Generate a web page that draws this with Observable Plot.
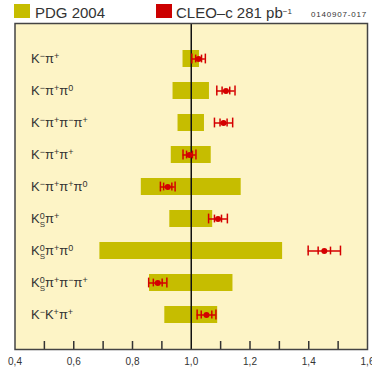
<!DOCTYPE html>
<html><head><meta charset="utf-8">
<script src="https://cdn.jsdelivr.net/npm/d3@7"></script>
<script src="https://cdn.jsdelivr.net/npm/@observablehq/plot@0.6"></script>
<style>
body{margin:0;background:#fff;font-family:"Liberation Sans",Arial,sans-serif;color:#333;}
#wrap{position:relative;width:372px;height:373px;overflow:hidden;}
#chart{position:absolute;left:0;top:0;}
#legend{position:absolute;left:0;top:0;width:372px;height:22px;z-index:2;}
.sw{position:absolute;top:4px;width:16px;height:14px;}
.lt{position:absolute;top:4.6px;font-size:15px;line-height:15px;white-space:nowrap;color:#333;}
.lt sup{font-size:8px;vertical-align:top;position:relative;top:-1px;}
.code{position:absolute;left:311px;top:10.5px;font-size:8px;line-height:8px;letter-spacing:0.8px;color:#333;white-space:nowrap;}
</style></head><body>
<div id="wrap">
  <div id="chart"></div>
  <div id="legend">
    <span class="sw" style="left:14px;background:#c6bd00"></span><span class="lt" style="left:35px">PDG 2004</span>
    <span class="sw" style="left:156px;background:#cc0000"></span><span class="lt" style="left:176px">CLEO–c 281 pb<sup>−1</sup></span>
    <span class="code">0140907-017</span>
  </div>
</div>
<script>
const modes = ["Kpi","Kpipi0","K3pi","Kpipi","Kpipipi0","KSpi","KSpipi0","KS3pi","KKpi"];
const labels = ["K⁻π⁺","K⁻π⁺π⁰","K⁻π⁺π⁻π⁺","K⁻π⁺π⁺","K⁻π⁺π⁺π⁰","K⁰ₛπ⁺","K⁰ₛπ⁺π⁰","K⁰ₛπ⁺π⁻π⁺","K⁻K⁺π⁺"];
const pdgErr = [0.028,0.062,0.045,0.068,0.170,0.073,0.311,0.142,0.090];
const cleoRatio = [1.025,1.118,1.110,0.994,0.920,1.091,1.453,0.886,1.052];
const cleoStat = [0.010,0.013,0.012,0.010,0.014,0.012,0.021,0.015,0.018];
const cleoTot = [0.023,0.031,0.031,0.022,0.025,0.032,0.055,0.031,0.032];
const xTicks = [0.4,0.6,0.8,1.0,1.2,1.4,1.6];
const minorTicks = [0.5,0.6,0.7,0.8,0.9,1.1,1.2,1.3,1.4,1.5];
const refLine = [1.0];

const red = "#d40000";
const rows = modes.map((m,i)=>({
  mode:m, label:labels[i],
  pdgLo:1-pdgErr[i], pdgHi:1+pdgErr[i],
  r:cleoRatio[i],
  sLo:cleoRatio[i]-cleoStat[i], sHi:cleoRatio[i]+cleoStat[i],
  tLo:cleoRatio[i]-cleoTot[i], tHi:cleoRatio[i]+cleoTot[i]
}));
const W=372,H=373,mT=23,mB=24,mL=14.5,mR=5;
const inner = H-mT-mB;
const plot = Plot.plot({
  width:W,height:H,marginTop:mT,marginBottom:mB,marginLeft:mL,marginRight:mR,
  style:{fontFamily:'"Liberation Sans", Arial, sans-serif',background:"transparent",color:"#333"},
  x:{domain:[0.4,1.6]},
  y:{domain:modes,paddingInner:0.47,paddingOuter:0.735,axis:null},
  marks:[
    Plot.frame({fill:"#fdf4c6"}),
    Plot.barX(rows,{x1:"pdgLo",x2:"pdgHi",y:"mode",fill:"#c6bd00"}),
    Plot.ruleX(minorTicks,{stroke:"#333",strokeWidth:1.5,insetTop:inner-8}),
    Plot.ruleX(refLine,{stroke:"#111",strokeWidth:1.5}),
    Plot.text(rows,{y:"mode",text:"label",frameAnchor:"left",dx:16,textAnchor:"start",fontSize:13,fill:"#333"}),
    Plot.ruleY(rows,{y:"mode",x1:"tLo",x2:"tHi",stroke:red,strokeWidth:1.5}),
    Plot.tickX(rows,{x:"tLo",y:"mode",stroke:red,strokeWidth:1.5,insetTop:3.6,insetBottom:3.6}),
    Plot.tickX(rows,{x:"tHi",y:"mode",stroke:red,strokeWidth:1.5,insetTop:3.6,insetBottom:3.6}),
    Plot.tickX(rows,{x:"sLo",y:"mode",stroke:red,strokeWidth:1.5,insetTop:4.6,insetBottom:4.6}),
    Plot.tickX(rows,{x:"sHi",y:"mode",stroke:red,strokeWidth:1.5,insetTop:4.6,insetBottom:4.6}),
    Plot.dot(rows,{x:"r",y:"mode",r:3,fill:red}),
    Plot.frame({stroke:"#444",strokeWidth:1.5}),
    Plot.axisX({ticks:xTicks,tickFormat:d=>d.toFixed(1).replace(".",","),tickSize:0,tickPadding:8,fontSize:10})
  ]
});
document.getElementById("chart").appendChild(plot);

// rich rendering of decay-mode labels (superscripts / stacked subscript)
const svgNS = "http://www.w3.org/2000/svg";
const supMap = {"⁻":"−","⁺":"+","⁰":"0"};
const labelSet = new Set(labels);
d3.select(plot).selectAll("text").each(function(){
  const s = this.textContent;
  if (!labelSet.has(s)) return;
  this.textContent = "";
  let cur = 0, prev = null;
  for (const ch of s) {
    const t = document.createElementNS(svgNS,"tspan");
    if (supMap[ch]) {
      t.textContent = supMap[ch]; t.setAttribute("font-size",9);
      t.setAttribute("dy",-4-cur); cur=-4;
    } else if (ch === "ₛ") {
      t.textContent = "S"; t.setAttribute("font-size",8);
      const w = prev ? prev.getComputedTextLength() : 4;
      t.setAttribute("dx",-w); t.setAttribute("dy",4-cur); cur=4;
    } else {
      t.textContent = ch; t.setAttribute("dy",-cur); cur=0;
    }
    this.appendChild(t);
    prev = t;
  }
});
</script>
</body></html>
